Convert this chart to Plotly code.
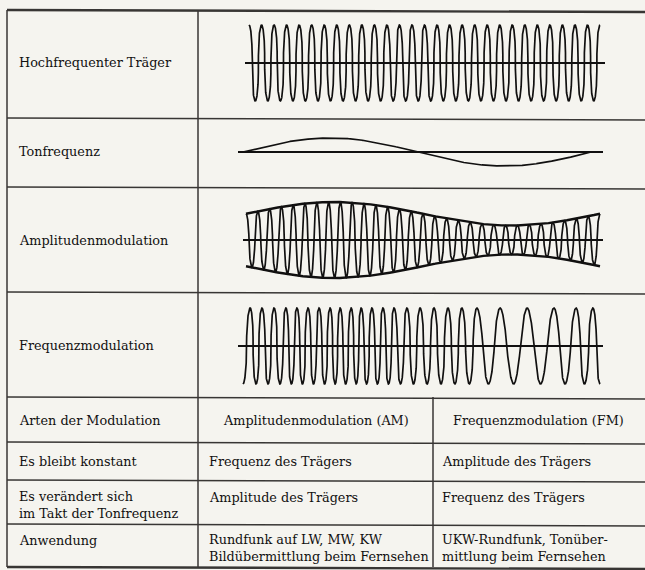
"""Träger, Tonfrequenz, AM und FM: Schautafel nach Lehrbuchvorlage (Plotly)."""

import numpy as np
import plotly.graph_objects as go

W, H = 645, 570

# --- values ------------------------------------------------------------
row_labels = [
    "Hochfrequenter Träger",
    "Tonfrequenz",
    "Amplitudenmodulation",
    "Frequenzmodulation",
]
carrier_cycles = 28
am_cycles = 30
tone_amplitude = 0.37
am_envelope_mean = 0.69
am_envelope_depth = 0.31
# peak times of the FM wave (0 = left end, 1 = right end)
fm_peak_times = [
    0.020, 0.053, 0.087, 0.120, 0.151, 0.182, 0.213, 0.244, 0.272, 0.303,
    0.331, 0.361, 0.392, 0.423, 0.459, 0.496, 0.535, 0.574, 0.613, 0.655,
    0.720, 0.796, 0.871, 0.933, 0.980,
]

table_header = ["Arten der Modulation", "Amplitudenmodulation (AM)", "Frequenzmodulation (FM)"]
table_rows = [
    ["Es bleibt konstant", "Frequenz des Trägers", "Amplitude des Trägers"],
    ["Es verändert sich<br>im Takt der Tonfrequenz", "Amplitude des Trägers", "Frequenz des Trägers"],
    ["Anwendung", "Rundfunk auf LW, MW, KW<br>Bildübermittlung beim Fernsehen",
     "UKW-Rundfunk, Tonüber-<br>mittlung beim Fernsehen"],
]

# --- page geometry (pixels) --------------------------------------------
INK = "#111010"
RULE = "#383634"
PAPER = "#f5f4ef"
FONT = dict(family="DejaVu Serif, Liberation Serif, serif", size=12.8, color=INK)

# center y, wave x0, wave x1, baseline x0, baseline x1
panels = [
    (63, 249, 600, 245, 605),
    (152, 243, 591, 238, 603),
    (240, 246, 600, 243, 603),
    (346, 243, 600, 238, 603),
]
UNIT = 38  # pixels per amplitude unit
HALF = 50

h_rules = [10, 118, 187, 292, 397, 442, 480, 524, 567]
label_y = [62, 152, 240, 345]


def px(x):
    return x / W


def py(y):
    return 1 - y / H


def squared(c, p):
    # the printed carrier has steep flanks and rounded crests
    return np.sign(c) * np.abs(c) ** p


t = np.linspace(0, 1, 6000)
carrier = squared(np.cos(2 * np.pi * carrier_cycles * t), 0.35)
tone = tone_amplitude * np.sin(2 * np.pi * t)
envelope = am_envelope_mean + am_envelope_depth * np.sin(2 * np.pi * t)
am = envelope * squared(np.cos(2 * np.pi * am_cycles * t), 0.55)

knots_t = [0.0] + fm_peak_times + [1.0]
knots_phase = [-np.pi] + [2 * np.pi * k for k in range(len(fm_peak_times))] + [
    2 * np.pi * (len(fm_peak_times) - 1) + np.pi]
fm_phase = np.interp(t, knots_t, knots_phase)
# crest shape follows the local period: narrow cycles look like "U", wide ones like arches
fm_period_px = 2 * np.pi / np.gradient(fm_phase, t) * (panels[3][2] - panels[3][1])
fm = squared(np.cos(fm_phase), np.clip(fm_period_px / 32, 0.35, 0.85))

waves = [[carrier], [tone], [am, envelope, -envelope], [fm]]

fig = go.Figure()
layout_axes = {}
for i, ((cy, w0, w1, b0, b1), curves) in enumerate(zip(panels, waves)):
    n = "" if i == 0 else str(i + 1)
    span = w1 - w0
    d0, d1 = b0 - 4, b1 + 4
    layout_axes[f"xaxis{n}"] = dict(
        domain=[px(d0), px(d1)], range=[(d0 - w0) / span, (d1 - w0) / span],
        visible=False, fixedrange=True, anchor=f"y{n}",
    )
    layout_axes[f"yaxis{n}"] = dict(
        domain=[py(cy + HALF), py(cy - HALF)], range=[-HALF / UNIT, HALF / UNIT],
        visible=False, fixedrange=True, anchor=f"x{n}",
    )
    fig.add_trace(go.Scatter(
        x=[(b0 - w0) / span, (b1 - w0) / span], y=[0, 0], mode="lines",
        line=dict(color=INK, width=2), xaxis=f"x{n}", yaxis=f"y{n}",
        hoverinfo="skip", showlegend=False,
    ))
    for j, c in enumerate(curves):
        fig.add_trace(go.Scatter(
            x=t, y=c, mode="lines",
            line=dict(color=INK, width=2.4 if j else 1.7),
            xaxis=f"x{n}", yaxis=f"y{n}", hoverinfo="skip", showlegend=False,
        ))

shapes = []
for k, y in enumerate(h_rules):
    wdt = 2.4 if k in (0, len(h_rules) - 1) else 1.5
    shapes.append(dict(type="line", xref="paper", yref="paper",
                       x0=px(7), x1=1, y0=py(y), y1=py(y + 2),
                       line=dict(color=RULE, width=wdt)))
for x, y0 in [(7, 10), (198, 10), (433, 397)]:
    shapes.append(dict(type="line", xref="paper", yref="paper",
                       x0=px(x), x1=px(x), y0=py(y0), y1=py(567),
                       line=dict(color=RULE, width=1.5)))

annotations = []


def note(text, x, y, anchor="left"):
    annotations.append(dict(
        text=text, x=px(x), y=py(y), xref="paper", yref="paper",
        xanchor=anchor, yanchor="middle", showarrow=False, align=anchor,
        font=FONT,
    ))


for lab, y in zip(row_labels, label_y):
    note(lab, 17, y)

note(table_header[0], 17, 420)
note(table_header[1], 316, 420, "center")
note(table_header[2], 538, 420, "center")

row_y = [461, 505, 548]
for row, y in zip(table_rows, row_y):
    two_line = any("<br>" in c for c in row)
    for col, x in zip(row, [17, 207, 440]):
        note(col, x, y if "<br>" in col or not two_line else y - 8)

fig.update_layout(
    width=W, height=H,
    margin=dict(l=0, r=0, t=0, b=0),
    paper_bgcolor=PAPER, plot_bgcolor="rgba(0,0,0,0)",
    shapes=shapes, annotations=annotations,
    showlegend=False,
    **layout_axes,
)

fig.write_html(
    "out.html",
    config={"displayModeBar": False},
    post_script="document.body.style.margin='0';",
)
